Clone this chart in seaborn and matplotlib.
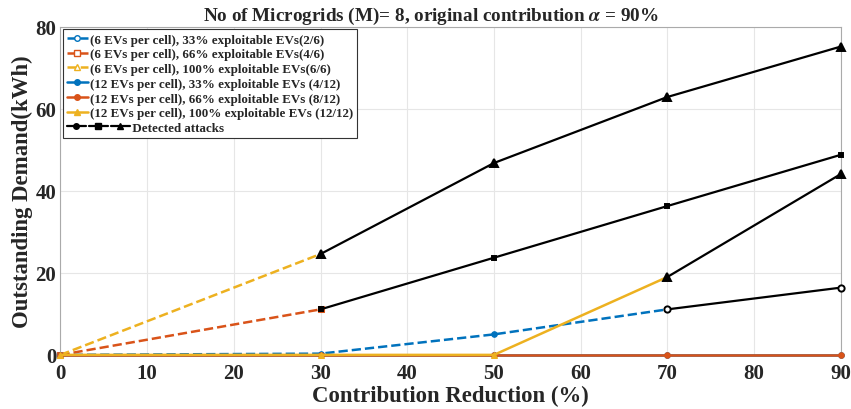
import numpy as np
import pandas as pd
import seaborn as sns
import matplotlib
matplotlib.use("Agg")
import matplotlib.pyplot as plt
from matplotlib.legend_handler import HandlerTuple
from matplotlib.lines import Line2D

sns.set_theme(style="whitegrid")
plt.rcParams['font.family'] = ['Liberation Serif', 'DejaVu Serif']
plt.rcParams['font.weight'] = 'bold'
plt.rcParams['mathtext.fontset'] = 'stix'

x = [0, 30, 50, 70, 90]
ev6_33 = [0.0, 0.3, 5.0, 11.1, 16.4]
ev6_66 = [0.0, 11.1, 23.7, 36.3, 48.8]
ev6_100 = [0.0, 24.6, 46.8, 62.9, 75.2]
ev12_33 = [0.0, 0.0, 0.0, 0.0, 0.0]
ev12_66 = [0.0, 0.0, 0.0, 0.0, 0.0]
ev12_100 = [0.0, 0.0, 0.0, 19.0, 44.1]
# index of first detected point (black segment starts here); None = never
det_6_33, det_6_66, det_6_100 = 3, 1, 1
det_12_33, det_12_66, det_12_100 = None, None, 3

labels = ["(6 EVs per cell), 33% exploitable EVs(2/6)",
          "(6 EVs per cell), 66% exploitable EVs(4/6)",
          "(6 EVs per cell), 100% exploitable EVs(6/6)",
          "(12 EVs per cell), 33% exploitable EVs (4/12)",
          "(12 EVs per cell), 66% exploitable EVs (8/12)",
          "(12 EVs per cell), 100% exploitable EVs (12/12)",
          "Detected attacks"]

BLUE, ORANGE, YELLOW = "#0072BD", "#D95319", "#EDB120"


class WideTuple(HandlerTuple):
    def create_artists(self, legend, orig_handle, xdescent, ydescent,
                       width, height, fontsize, trans):
        return super().create_artists(legend, orig_handle, xdescent, ydescent,
                                      width * 3.0, height, fontsize, trans)


fig, ax = plt.subplots(figsize=(8.51, 4.10), dpi=100)
fig.subplots_adjust(left=0.071, right=0.988, top=0.932, bottom=0.132)

series = [
    (ev6_33, det_6_33, BLUE, '--', 'o', True),
    (ev6_66, det_6_66, ORANGE, '--', 's', True),
    (ev6_100, det_6_100, YELLOW, '--', '^', True),
    (ev12_33, det_12_33, BLUE, '-', 'o', False),
    (ev12_66, det_12_66, ORANGE, '-', 'o', False),
    (ev12_100, det_12_100, YELLOW, '-', '^', False),
]

handles = []
for vals, det, col, ls, mk, hollow in series:
    end = len(x) if det is None else det + 1
    df = pd.DataFrame({"x": x[:end], "y": vals[:end]})
    ms = 4 if mk != '^' else 5
    sns.lineplot(data=df, x="x", y="y", ax=ax, color=col, linestyle=ls,
                 linewidth=1.8, marker=mk, markersize=ms,
                 markerfacecolor=col,
                 markeredgecolor=col, clip_on=False, zorder=3)
    handles.append(Line2D([], [], color=col, linestyle=ls, linewidth=1.8,
                          marker=mk, markersize=4,
                          markerfacecolor='white' if hollow else col,
                          markeredgecolor=col))

for vals, det, col, ls, mk, hollow in series:
    if det is None:
        continue
    df = pd.DataFrame({"x": x[det:], "y": vals[det:]})
    ms = 4.5 if mk == 'o' else (3 if mk == 's' else 5.5)
    sns.lineplot(data=df, x="x", y="y", ax=ax, color='black', linestyle='-',
                 linewidth=1.6, marker=mk, markersize=ms,
                 markerfacecolor='white' if mk == 'o' else 'black',
                 markeredgecolor='black', markeredgewidth=1.4,
                 clip_on=False, zorder=4)

det_handles = tuple(Line2D([], [], color='black', linewidth=1.6, marker=m,
                           markersize=4 if m != '^' else 5,
                           markerfacecolor='black', markeredgecolor='black')
                    for m in ['o', 's', '^'])
handles.append(det_handles)
leg_labels = labels[:-1] + [" " * 13 + labels[-1]]

leg = ax.legend(handles, leg_labels, loc='upper left',
                handler_map={tuple: WideTuple(ndivide=None, pad=0.25)},
                prop={'family': 'Liberation Serif', 'weight': 'bold', 'size': 9.4},
                frameon=True, fancybox=False, edgecolor='#333333',
                framealpha=1, borderpad=0.3, labelspacing=0.2,
                handlelength=1.6, handletextpad=0.15, borderaxespad=0.2)
leg.get_frame().set_linewidth(0.8)

ax.set_xlim(0, 90)
ax.set_ylim(0, 80)
ax.set_xticks(range(0, 91, 10))
ax.set_yticks(range(0, 81, 20))
ax.tick_params(axis='x', labelsize=15, pad=6, length=0)
ax.tick_params(axis='y', labelsize=15, pad=3, length=0)
for lab in ax.get_xticklabels() + ax.get_yticklabels():
    lab.set_fontweight('bold')
ax.grid(True, color='#e6e6e6', linewidth=0.8)
for s in ax.spines.values():
    s.set_color('#aaaaaa')
    s.set_linewidth(0.8)
ax.set_facecolor('white')

ax.set_xlabel("Contribution Reduction (%)", fontsize=16.4, fontweight='bold', labelpad=1)
ax.set_ylabel("Outstanding Demand(kWh)", fontsize=16.4, fontweight='bold', labelpad=2)
ax.set_title(r"No of Microgrids (M)= 8, original contribution $\alpha$ = 90%",
             fontsize=13.8, fontweight='bold', pad=5, x=0.475)

fig.savefig("out.png", dpi=100, facecolor='white')
